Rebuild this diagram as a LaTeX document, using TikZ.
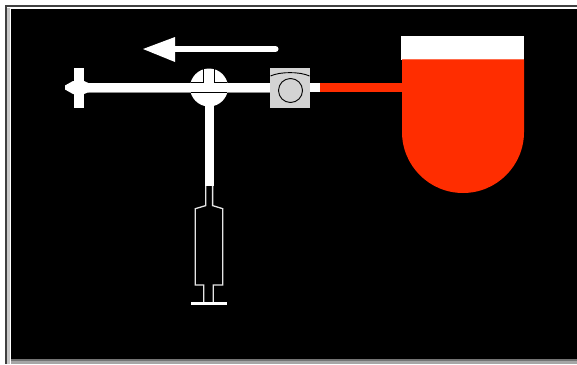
\documentclass[tikz,border=0pt]{standalone}
\definecolor{fluid}{RGB}{255,45,0}
\definecolor{pumpgray}{RGB}{211,211,211}
\tikzset{
  tube/.style={fill=white,draw=none},
  outline/.style={draw=white!90!black,line width=1.3pt,fill=none,line join=miter},
  thin/.style={draw=black,line width=0.9pt,fill=none}
}
\begin{document}
\begin{tikzpicture}[x=1pt,y=-1pt]
\useasboundingbox (0,0) rectangle (577,364);
% window frame
\fill[white] (0,0) rectangle (577,364);
\fill[black!75] (5,5) rectangle (577,6.5);
\fill[black!75] (5,5) rectangle (6.5,364);
\fill[black!22] (7,8) rectangle (10,364);
\fill[black] (10.5,8.7) rectangle (577,359);
\fill[black!55] (10.5,359) rectangle (577,361);
\fill[black!35] (10.5,361) rectangle (577,364);
% direction arrow
\coordinate (arrowStart) at (275.5,49);
\coordinate (arrowBase) at (175,49);
\draw[white,line width=6pt,line cap=round] (arrowStart) -- (arrowBase);
\fill[white] (143,49) -- (175,37) -- (175,62) -- cycle;
% main line
\fill[black!45] (88,88) rectangle (270,92.6);
% left plug
\fill[tube] (74,68) rectangle (84,108);
\fill[tube] (65,85.5) -- (73,81) -- (84,81) -- (89,83.3) -- (89,92) -- (84,94) -- (73,94) -- (65,89.5) -- cycle;
% stopcock
\fill[tube] (209,87.5) circle[radius=19];
\draw[thin] (203.3,68.8) -- (203.3,82.6) -- (190.6,82.6);
\draw[thin] (214.9,68.8) -- (214.9,82.6) -- (227.4,82.6);
\draw[thin] (190.6,92.8) -- (227.4,92.8);
\fill[tube] (88,83.3) rectangle (320,92);
% line to syringe
\fill[tube] (204.7,93.2) rectangle (214,186);
% syringe
\draw[outline] (205.8,186) -- (205.8,205.6) -- (195.2,208.7) -- (195.2,285) -- (203.7,285) -- (203.7,303) -- (213.3,303) -- (213.3,285) -- (222.8,285) -- (222.8,208.7) -- (212.6,205.6) -- (212.6,186);
\fill[tube] (190.5,302.4) rectangle (227.3,304.6);
% pump
\fill[pumpgray] (270,68) rectangle (310,107.6);
\draw[thin] (270.5,76) .. controls (280,71.5) and (300,71.5) .. (309.5,76);
\draw[thin] (290.5,90.5) circle[radius=12];
% red line
\fill[fluid] (320,83.3) rectangle (403,92);
% bag
\fill[white] (401,36) rectangle (524,60);
\fill[fluid!70!white] (402,59) rectangle (524,60);
\fill[fluid] (402,60) -- (524,60) -- (524,132) arc[start angle=0,end angle=180,radius=61] -- cycle;
\end{tikzpicture}
\end{document}
